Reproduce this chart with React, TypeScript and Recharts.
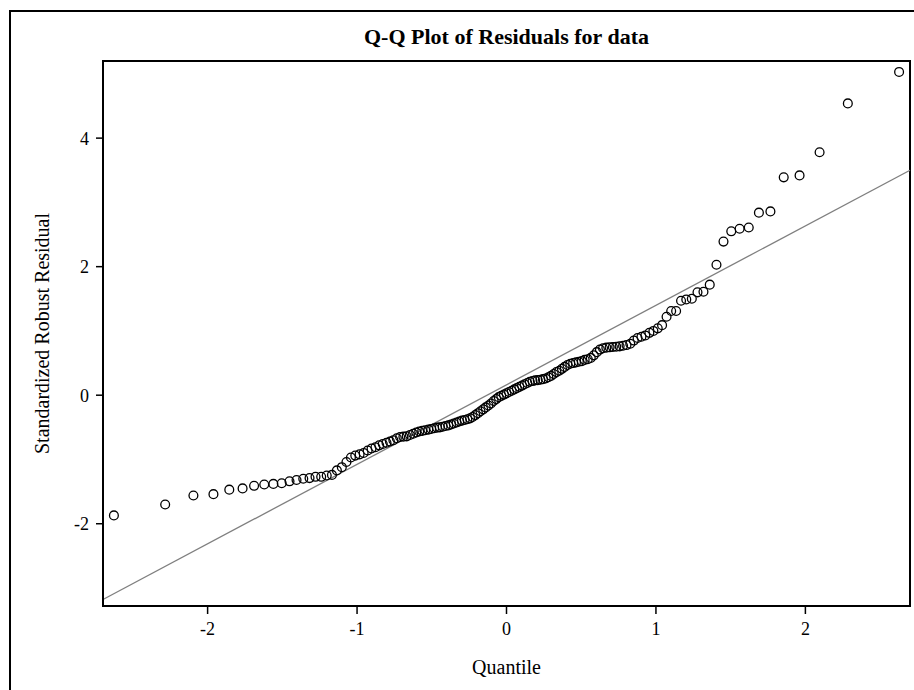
import React from 'react';
import {
  ScatterChart,
  Scatter,
  XAxis,
  YAxis,
  ReferenceLine,
  ReferenceArea,
} from 'recharts';

// theoretical normal quantiles (Blom positions, n = 145)
const quantiles = [
  -2.627, -2.284, -2.095, -1.961, -1.855, -1.766, -1.689, -1.621, -1.56, -1.504,
  -1.452, -1.405, -1.36, -1.318, -1.278, -1.24, -1.203, -1.168, -1.135, -1.102,
  -1.071, -1.041, -1.012, -0.983, -0.956, -0.929, -0.903, -0.877, -0.852, -0.828,
  -0.803, -0.78, -0.757, -0.734, -0.712, -0.69, -0.668, -0.646, -0.625, -0.604,
  -0.584, -0.564, -0.544, -0.523, -0.504, -0.484, -0.465, -0.446, -0.427, -0.408,
  -0.389, -0.371, -0.353, -0.334, -0.316, -0.298, -0.28, -0.262, -0.244, -0.227,
  -0.209, -0.191, -0.174, -0.156, -0.139, -0.121, -0.104, -0.086, -0.069, -0.052,
  -0.035, -0.017, 0,
  0.017, 0.035, 0.052, 0.069, 0.086, 0.104, 0.121, 0.139, 0.156, 0.174,
  0.191, 0.209, 0.227, 0.244, 0.262, 0.28, 0.298, 0.316, 0.334, 0.353,
  0.371, 0.389, 0.408, 0.427, 0.446, 0.465, 0.484, 0.504, 0.523, 0.544,
  0.564, 0.584, 0.604, 0.625, 0.646, 0.668, 0.69, 0.712, 0.734, 0.757,
  0.78, 0.803, 0.828, 0.852, 0.877, 0.903, 0.929, 0.956, 0.983, 1.012,
  1.041, 1.071, 1.102, 1.135, 1.168, 1.203, 1.24, 1.278, 1.318, 1.36,
  1.405, 1.452, 1.504, 1.56, 1.621, 1.689, 1.766, 1.855, 1.961, 2.095,
  2.284, 2.627,
];

// sorted standardized robust residuals
const residuals = [
  -1.87, -1.7, -1.56, -1.54, -1.47, -1.45, -1.41, -1.39, -1.38, -1.37,
  -1.34, -1.32, -1.3, -1.29, -1.27, -1.27, -1.25, -1.24, -1.17, -1.12,
  -1.04, -0.97, -0.94, -0.92, -0.9, -0.86, -0.83, -0.81, -0.78, -0.76,
  -0.74, -0.72, -0.7, -0.67, -0.65, -0.645, -0.64, -0.62, -0.6, -0.58,
  -0.565, -0.555, -0.545, -0.535, -0.525, -0.515, -0.505, -0.5, -0.49, -0.48,
  -0.47, -0.455, -0.44, -0.425, -0.41, -0.395, -0.385, -0.375, -0.36, -0.34,
  -0.31, -0.28, -0.25, -0.22, -0.19, -0.16, -0.13, -0.09, -0.06, -0.03,
  -0.01, 0.01, 0.03,
  0.05, 0.07, 0.09, 0.11, 0.13, 0.15, 0.17, 0.19, 0.21, 0.22,
  0.23, 0.235, 0.24, 0.25, 0.26, 0.28, 0.3, 0.33, 0.36, 0.38,
  0.41, 0.44, 0.47, 0.49, 0.5, 0.51, 0.52, 0.53, 0.55, 0.56,
  0.58, 0.62, 0.67, 0.71, 0.73, 0.74, 0.745, 0.75, 0.755, 0.76,
  0.77, 0.78, 0.8, 0.85, 0.89, 0.91, 0.93, 0.97, 1.0, 1.04,
  1.09, 1.22, 1.31, 1.31, 1.47, 1.49, 1.5, 1.6, 1.61, 1.72,
  2.03, 2.39, 2.55, 2.59, 2.61, 2.84, 2.86, 3.39, 3.42, 3.78,
  4.54, 5.03,
];

const xTicks = [-2, -1, 0, 1, 2];
const yTicks = [-2, 0, 2, 4];
const xDomain = [-2.7, 2.7];
const yDomain = [-3.28, 5.2];

// robust fit line
const lineIntercept = 0.161;
const lineSlope = 1.237;

const points = quantiles.map((q, i) => ({ x: q, y: residuals[i] }));

const font = '"Liberation Serif", "Times New Roman", serif';

const RingDot = (props: any) => {
  const { cx, cy } = props;
  if (cx == null || cy == null) return null;
  return <circle cx={cx} cy={cy} r={4.4} fill="none" stroke="#000" strokeWidth={1.3} />;
};

export default function App() {
  return (
    <div
      style={{
        position: 'absolute',
        left: 0,
        top: 0,
        width: 914,
        height: 690,
        overflow: 'hidden',
        background: '#fff',
        fontFamily: font,
      }}
    >
      <div
        style={{
          position: 'absolute',
          left: 9,
          top: 10,
          width: 1000,
          height: 1000,
          border: '2px solid #000',
        }}
      />
      <div
        style={{
          position: 'absolute',
          left: 103,
          width: 807,
          top: 26,
          textAlign: 'center',
          fontWeight: 'bold',
          fontSize: 22,
          lineHeight: 1,
        }}
      >
        Q-Q Plot of Residuals for data
      </div>
      <div style={{ position: 'absolute', left: 0, top: 0 }}>
        <ScatterChart width={914} height={690} margin={{ top: 61, right: 4, bottom: 0, left: 0 }}>
          <XAxis
            type="number"
            dataKey="x"
            domain={xDomain}
            ticks={xTicks}
            allowDataOverflow
            height={84}
            tickSize={8}
            tickMargin={8}
            axisLine={{ stroke: '#000', strokeWidth: 2 }}
            tickLine={{ stroke: '#000', strokeWidth: 1.5 }}
            tick={{ fill: '#000', fontSize: 18, fontFamily: font }}
            label={{
              value: 'Quantile',
              position: 'insideBottom',
              offset: 16,
              style: { fill: '#000', fontSize: 20, fontFamily: font },
            }}
          />
          <YAxis
            type="number"
            dataKey="y"
            domain={yDomain}
            ticks={yTicks}
            allowDataOverflow
            width={103}
            tickSize={7}
            tickMargin={7}
            axisLine={{ stroke: '#000', strokeWidth: 2 }}
            tickLine={{ stroke: '#000', strokeWidth: 1.5 }}
            tick={{ fill: '#000', fontSize: 18, fontFamily: font }}
            label={{
              value: 'Standardized Robust Residual',
              angle: -90,
              position: 'insideLeft',
              offset: 42,
              style: { fill: '#000', fontSize: 20, fontFamily: font, textAnchor: 'middle' },
            }}
          />
          <ReferenceArea
            x1={xDomain[0]}
            x2={xDomain[1]}
            y1={yDomain[0]}
            y2={yDomain[1]}
            fill="none"
            stroke="#000"
            strokeWidth={2}
          />
          <ReferenceLine
            segment={[
              { x: xDomain[0], y: lineIntercept + lineSlope * xDomain[0] },
              { x: xDomain[1], y: lineIntercept + lineSlope * xDomain[1] },
            ]}
            stroke="#7f7f7f"
            strokeWidth={1.3}
          />
          <Scatter data={points} shape={RingDot} isAnimationActive={false} />
        </ScatterChart>
      </div>
    </div>
  );
}
